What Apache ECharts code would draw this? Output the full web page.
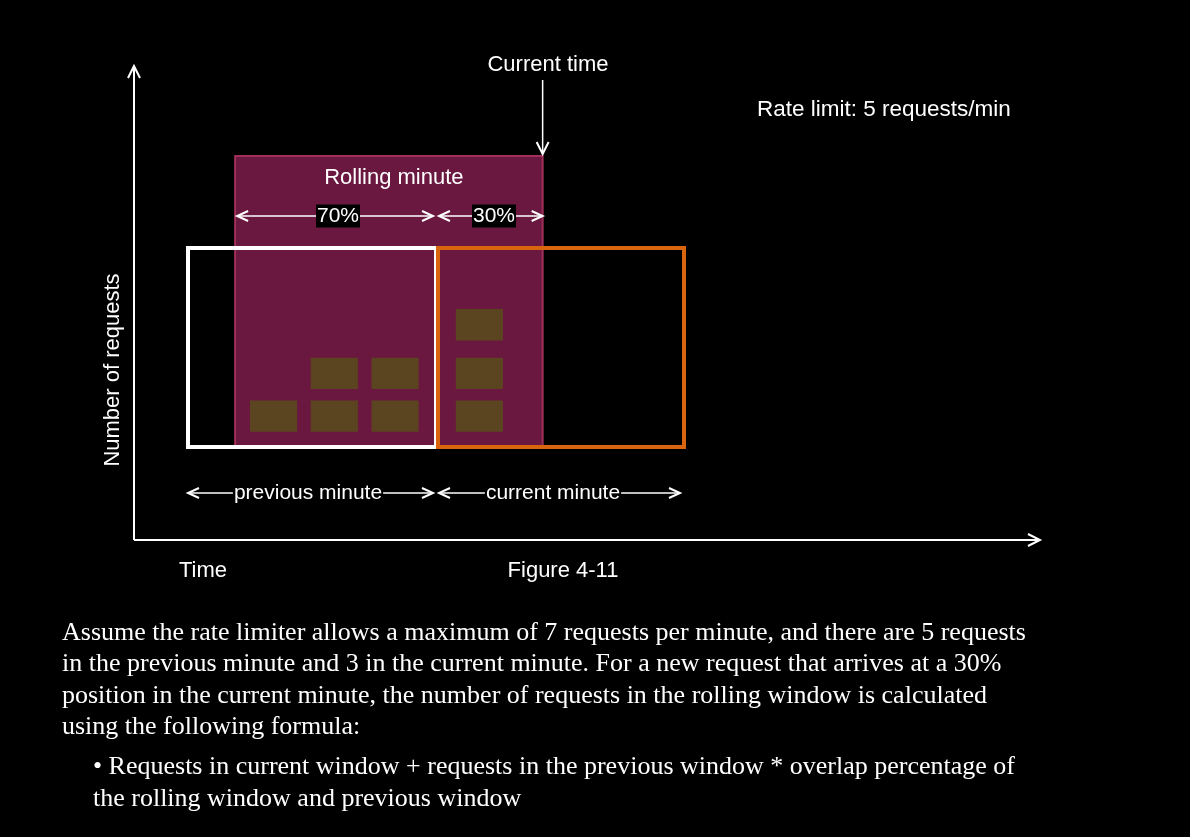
<!DOCTYPE html>
<html><head><meta charset="utf-8">
<script src="https://cdn.jsdelivr.net/npm/echarts@6/dist/echarts.min.js"></script>
<style>html,body{margin:0;background:#000}#main{width:1190px;height:837px}</style>
</head><body><div id="main"></div>
<script>
// x in minutes (0 = start of previous minute), y in request slots
var minutes = ['previous minute', 'current minute'];
var rollingWindow = [0.19, 1.43];     // start / end of rolling minute
var splitPct = ['70%', '30%'];
var prevRequests = [[0.25, 0], [0.495, 0], [0.495, 1], [0.74, 0], [0.74, 1]];
var curRequests = [[1.08, 0], [1.08, 1], [1.08, 2]];
var rateLimit = 'Rate limit: 5 requests/min';
var paragraph = [
  'Assume the rate limiter allows a maximum of 7 requests per minute, and there are 5 requests',
  'in the previous minute and 3 in the current minute. For a new request that arrives at a 30%',
  'position in the current minute, the number of requests in the rolling window is calculated',
  'using the following formula:'
];
var bullet = ['\u2022 Requests in current window + requests in the previous window * overlap percentage of',
  'the rolling window and previous window'];

var BW = 0.19, BH = 0.68, ROWS = [0.33, 1.26, 2.32], TOP = 4.33;
var items = [];
items.push([rollingWindow[0], rollingWindow[1], 0, TOP + 2.0, 'roll']);
prevRequests.concat(curRequests).forEach(function (r) {
  items.push([r[0], r[0] + BW, ROWS[r[1]], ROWS[r[1]] + BH, 'req']);
});
items.push([0, 1, 0, TOP, 'prev']);
items.push([1, 2, 0, TOP, 'cur']);

var styles = {
  roll: {fill: '#6a1840', stroke: '#a0305a', lineWidth: 2},
  req: {fill: '#5b4420', stroke: null},
  prev: {fill: 'none', stroke: '#ffffff', lineWidth: 4},
  cur: {fill: 'none', stroke: '#d9650e', lineWidth: 4}
};

var chart = echarts.init(document.getElementById('main'));
chart.setOption({
  backgroundColor: '#000',
  animation: false,
  grid: {left: 188, top: 248, width: 496, height: 199},
  xAxis: {type: 'value', min: 0, max: 2, show: false},
  yAxis: {type: 'value', min: 0, max: TOP, show: false},
  series: [{
    type: 'custom', clip: false, data: items, z: 1,
    renderItem: function (params, api) {
      var p0 = api.coord([api.value(0), api.value(3)]);
      var p1 = api.coord([api.value(1), api.value(2)]);
      var k = items[params.dataIndex][4];
      var off = (k === 'cur') ? 2 : 0;
      return {type: 'rect', shape: {x: p0[0] + off, y: p0[1], width: p1[0] - p0[0] - off, height: p1[1] - p0[1]},
        style: styles[k]};
    }
  }]
});

function px(x, y) { return chart.convertToPixel({gridIndex: 0}, [x, y]); }
var g = [];
var F = '"Liberation Sans", Arial, sans-serif';
function txt(t, x, y, size, align, extra) {
  var o = {type: 'text', x: x, y: y, z: 100, style: {text: t, fill: '#fff', font: size + 'px ' + F, align: align || 'center', verticalAlign: 'middle'}};
  if (extra) Object.assign(o, extra);
  g.push(o);
}
function line(x1, y1, x2, y2, w) {
  g.push({type: 'line', z: 100, shape: {x1: x1, y1: y1, x2: x2, y2: y2}, style: {stroke: '#fff', lineWidth: w || 1.5}});
}
function head(x, y, dir) { // dir: 1 right, -1 left
  g.push({type: 'polyline', z: 100, shape: {points: [[x - dir * 11, y - 5], [x, y], [x - dir * 11, y + 5]]}, style: {stroke: '#fff', lineWidth: 2, fill: null}});
}
function dim(x1, x2, y, label, lx) {
  line(x1, y, x2, y); head(x1, y, -1); head(x2, y, 1);
  g.push({type: 'text', x: lx, y: y, z: 110, style: {text: label, fill: '#fff', font: '21px ' + F, align: 'center', verticalAlign: 'middle', backgroundColor: '#000', padding: [1, 1]}});
}
var a = px(0, 0), b = px(1, 0), c = px(2, 0), rs = px(rollingWindow[0], TOP + 2), re = px(rollingWindow[1], 0);
// axes
line(134, 540, 134, 68, 2); g.push({type: 'polyline', z: 100, shape: {points: [[128, 78], [134, 66], [140, 78]]}, style: {stroke: '#fff', lineWidth: 2, fill: null}});
line(134, 540, 1038, 540, 2); g.push({type: 'polyline', z: 100, shape: {points: [[1028, 534], [1040, 540], [1028, 546]]}, style: {stroke: '#fff', lineWidth: 2, fill: null}});
txt('Number of requests', 113, 370, 22, 'center', {rotation: Math.PI / 2});
txt('Time', 203, 571, 22);
txt('Figure 4-11', 563, 571, 22);
txt('Current time', 548, 65, 22);
line(re[0], 80, re[0], 153); g.push({type: 'polyline', z: 100, shape: {points: [[re[0] - 6, 142], [re[0], 154], [re[0] + 6, 142]]}, style: {stroke: '#fff', lineWidth: 2, fill: null}});
txt(rateLimit, 757, 110, 22.5, 'left');
txt('Rolling minute', (rs[0] + re[0]) / 2 + 5, 178, 22);
dim(rs[0] + 2, b[0] - 3, 216, splitPct[0], 338);
dim(b[0] + 3, re[0], 216, splitPct[1], 494);
dim(a[0], b[0] - 3, 493, minutes[0], 308);
dim(b[0] + 3, c[0] - 4, 493, minutes[1], 553);
var S = '"Liberation Serif", "Times New Roman", serif';
paragraph.forEach(function (t, i) {
  g.push({type: 'text', x: 62, y: 633 + i * 31.5, z: 100, style: {text: t, fill: '#fff', font: '26px ' + S, verticalAlign: 'middle'}});
});
bullet.forEach(function (t, i) {
  g.push({type: 'text', x: 93, y: 767 + i * 32, z: 100, style: {text: t, fill: '#fff', font: '26px ' + S, verticalAlign: 'middle'}});
});
chart.setOption({graphic: {elements: g}});
</script></body></html>
